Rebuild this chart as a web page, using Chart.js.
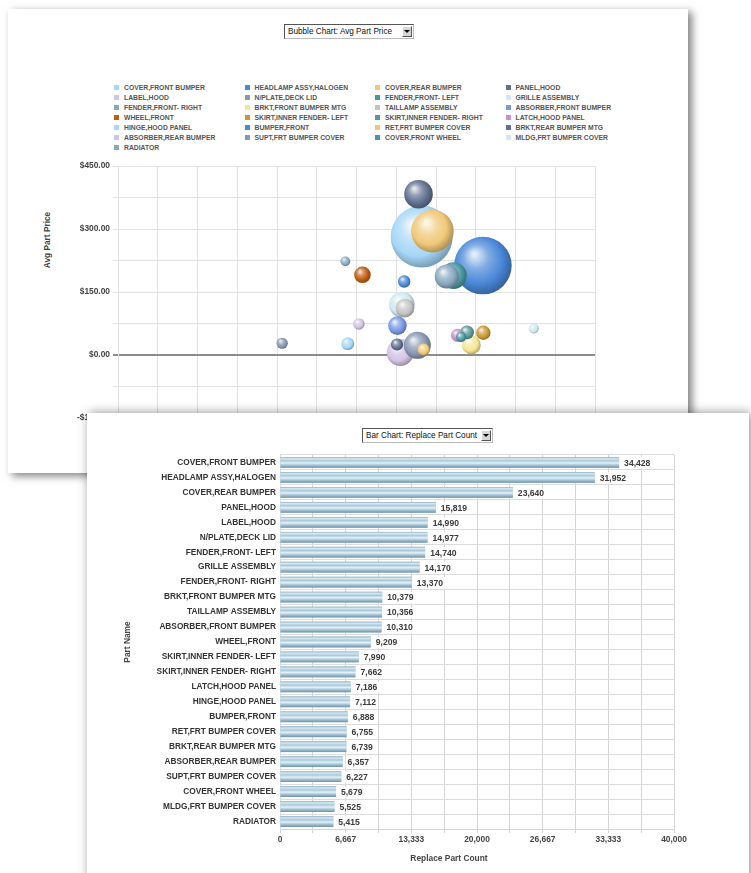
<!DOCTYPE html>
<html>
<head>
<meta charset="utf-8">
<script src="https://cdn.jsdelivr.net/npm/chart.js@4/dist/chart.umd.min.js"></script>
<style>
html, body { margin: 0; padding: 0; background: #fff; width: 751px; height: 873px; overflow: hidden; font-family: "Liberation Sans", Arial, sans-serif; }
.panel { position: absolute; background: #fff; }
#p1 { left: 8px; top: 9px; width: 680px; height: 464px; z-index: 1; box-shadow: 4px 3px 8px rgba(0, 0, 0, 0.5); }
#p2 { left: 87px; top: 413px; width: 662px; height: 480px; z-index: 2; box-shadow: 2px 0 10px rgba(0, 0, 0, 0.45); }
.pick { position: absolute; height: 13px; border: 1px solid; border-color: #555 #bbb #bbb #555; background: #fff; font-size: 8.2px; line-height: 13px; padding-left: 3px; color: #111; white-space: nowrap; }
.pick .btn { position: absolute; right: 1px; top: 1px; width: 10px; height: 11px; background: #d6d6d6; border: 1px solid; border-color: #fff #555 #555 #fff; box-sizing: border-box; }
.pick .btn::after { content: ''; position: absolute; left: 1px; top: 3px; border-left: 3px solid transparent; border-right: 3px solid transparent; border-top: 3px solid #000; }
#legend { position: absolute; left: 106px; top: 73.7px; display: grid; grid-template-columns: repeat(4, 130.5px); grid-auto-rows: 10px; }
#legend div { position: relative; font-size: 6.8px; font-weight: bold; color: #555; line-height: 10px; padding-left: 10px; white-space: nowrap; }
#legend i { position: absolute; left: 0; top: 2.5px; width: 5px; height: 5px; }
.vtitle { position: absolute; font-size: 8.3px; font-weight: bold; color: #444; white-space: nowrap; transform: translate(-50%, -50%) rotate(-90deg); }
.htitle { position: absolute; font-size: 8.4px; font-weight: bold; color: #444; white-space: nowrap; transform: translateX(-50%); }
canvas { position: absolute; }
</style>
</head>
<body>
<div class="panel" id="p1">
    <div class="pick" style="left: 276px; top: 15px; width: 125px;">Bubble Chart: Avg Part Price<span class="btn"></span></div>
    <div id="legend"></div>
    <div class="vtitle" style="left: 39px; top: 231px;">Avg Part Price</div>
    <canvas id="bubble" width="570" height="280" style="left: 32px; top: 147px;"></canvas>
</div>
<div class="panel" id="p2">
    <div class="pick" style="left: 275px; top: 15px; width: 126px;">Bar Chart: Replace Part Count<span class="btn"></span></div>
    <canvas id="bars" width="620" height="413" style="left: 13px; top: 33px;"></canvas>
    <div class="htitle" style="left: 362px; top: 440px;">Replace Part Count</div>
</div>
<script>
const parts = [
    'COVER,FRONT BUMPER', 'HEADLAMP ASSY,HALOGEN', 'COVER,REAR BUMPER', 'PANEL,HOOD',
    'LABEL,HOOD', 'N/PLATE,DECK LID', 'FENDER,FRONT- LEFT', 'GRILLE ASSEMBLY',
    'FENDER,FRONT- RIGHT', 'BRKT,FRONT BUMPER MTG', 'TAILLAMP ASSEMBLY', 'ABSORBER,FRONT BUMPER',
    'WHEEL,FRONT', 'SKIRT,INNER FENDER- LEFT', 'SKIRT,INNER FENDER- RIGHT', 'LATCH,HOOD PANEL',
    'HINGE,HOOD PANEL', 'BUMPER,FRONT', 'RET,FRT BUMPER COVER', 'BRKT,REAR BUMPER MTG',
    'ABSORBER,REAR BUMPER', 'SUPT,FRT BUMPER COVER', 'COVER,FRONT WHEEL', 'MLDG,FRT BUMPER COVER',
    'RADIATOR',
];

const replaceCounts = [
    34428, 31952, 23640, 15819, 14990, 14977, 14740, 14170, 13370, 10379, 10356, 10310,
    9209, 7990, 7662, 7186, 7112, 6888, 6755, 6739, 6357, 6227, 5679, 5525, 5415,
];

// avg part price per part
const avgPrices = [
    282, 213, 295, 383, 6, 23, 189, 120, 187, 24, 112, 70,
    191, 53, 54, 47, 27, 175, 13, 25, 74, 28, 43, 63, 223,
];

// horizontal bubble position, in grid steps (the x labels are hidden under the bar panel)
const bubbleX = [
    7.64, 9.18, 7.91, 7.56, 7.10, 7.53, 8.44, 7.14, 8.27, 8.89, 7.22, 7.03,
    6.15, 9.19, 8.78, 8.54, 5.78, 7.20, 7.69, 7.02, 6.06, 4.13, 8.63, 10.46, 5.72,
];

const partColors = [
    '#a6d6f8', '#4a88d8', '#f0c878', '#607090', '#d2c2e4', '#8898b2', '#4898a0', '#d0e8f0',
    '#88a8c0', '#f6e490', '#c4c4c4', '#7898e4', '#c05a10', '#c89830', '#5a9898', '#c890c8',
    '#a6d6f8', '#4a88d8', '#f0c878', '#607090', '#d2c2e4', '#8898b2', '#4898a0', '#d0e8f0',
    '#88a8c0',
];

const priceTickLabels = ['-$150.00', '$0.00', '$150.00', '$300.00', '$450.00'];
const countTickLabels = ['0', '6,667', '13,333', '20,000', '26,667', '33,333', '40,000'];

const FONT = '"Liberation Sans", Arial, sans-serif';

function mix(hex, target, t) {
    const a = parseInt(hex.slice(1), 16);
    const b = parseInt(target.slice(1), 16);
    const ch = (v, s) => (v >> s) & 255;
    const m = (s) => Math.round(ch(a, s) + (ch(b, s) - ch(a, s)) * t);
    return `rgb(${m(16)}, ${m(8)}, ${m(0)})`;
}

// legend
const legend = document.getElementById('legend');
parts.forEach((name, i) => {
    const item = document.createElement('div');
    item.innerHTML = `<i style="background:${partColors[i]}"></i>${name}`;
    legend.appendChild(item);
});

// shaded spheres, drawn at the points the bubble controller placed
const sphereShading = {
    id: 'sphereShading',
    afterDatasetsDraw(chart) {
        const { ctx } = chart;
        const meta = chart.getDatasetMeta(0);
        meta.data.forEach((el, i) => {
            const { x, y } = el.getProps(['x', 'y'], true);
            const r = el.options.radius;
            const c = partColors[i];
            const g = ctx.createRadialGradient(x - r * 0.3, y - r * 0.4, r * 0.05, x - r * 0.1, y - r * 0.1, r * 1.15);
            g.addColorStop(0, mix(c, '#ffffff', 0.85));
            g.addColorStop(0.35, mix(c, '#ffffff', 0.3));
            g.addColorStop(0.7, c);
            g.addColorStop(1, mix(c, '#000000', 0.3));
            ctx.save();
            ctx.beginPath();
            ctx.arc(x, y, r, 0, Math.PI * 2);
            ctx.fillStyle = g;
            ctx.fill();
            ctx.restore();
        });
    },
};

new Chart(document.getElementById('bubble'), {
    type: 'bubble',
    data: {
        datasets: [{
            data: parts.map((p, i) => ({ x: bubbleX[i], y: avgPrices[i], r: replaceCounts[i] / 1110 })),
            backgroundColor: 'rgba(0, 0, 0, 0)',
            borderWidth: 0,
            hoverRadius: 0,
        }],
    },
    options: {
        responsive: false,
        animation: false,
        layout: { autoPadding: false, padding: { top: 10, right: 15, left: 0, bottom: 0 } },
        plugins: { legend: { display: false }, tooltip: { enabled: false } },
        scales: {
            x: {
                type: 'linear',
                min: 0,
                max: 12,
                ticks: { display: false, stepSize: 1 },
                grid: { color: '#e2e2e2', tickLength: 5 },
                border: { color: '#e2e2e2' },
                afterFit(scale) { scale.height = 18; },
            },
            y: {
                min: -150,
                max: 450,
                ticks: {
                    stepSize: 75,
                    padding: 3,
                    color: '#444',
                    font: { family: FONT, size: 8.4, weight: 'bold' },
                    callback(value, index) {
                        return index % 2 === 0 ? priceTickLabels[index / 2] : '';
                    },
                },
                grid: {
                    tickLength: 5,
                    color: (c) => (c.tick && c.tick.value === 0 ? '#8c8c8c' : '#e2e2e2'),
                    lineWidth: (c) => (c.tick && c.tick.value === 0 ? 2 : 1),
                },
                border: { color: '#e2e2e2' },
                afterFit(scale) { scale.width = 78; },
            },
        },
    },
    plugins: [sphereShading],
});

// striped metal bars and value labels
const barShading = {
    id: 'barShading',
    afterDatasetsDraw(chart) {
        const { ctx } = chart;
        const meta = chart.getDatasetMeta(0);
        ctx.save();
        meta.data.forEach((el) => {
            const { x, y, base, height } = el.getProps(['x', 'y', 'base', 'height'], true);
            const top = y - height / 2;
            const g = ctx.createLinearGradient(0, top, 0, top + height);
            g.addColorStop(0, '#8fb0c4');
            g.addColorStop(0.15, '#d6e9f2');
            g.addColorStop(0.35, '#aac8d8');
            g.addColorStop(0.55, '#e4f2f8');
            g.addColorStop(0.75, '#a6c4d6');
            g.addColorStop(1, '#6f92aa');
            ctx.fillStyle = g;
            ctx.fillRect(base, top, x - base, height);
        });
        ctx.font = `bold 8.6px ${FONT}`;
        ctx.textBaseline = 'middle';
        meta.data.forEach((el, i) => {
            const { x, y } = el.getProps(['x', 'y'], true);
            const text = replaceCounts[i].toLocaleString('en-US');
            const w = ctx.measureText(text).width;
            ctx.fillStyle = '#fff';
            ctx.fillRect(x + 3, y - 5, w + 4, 11);
            ctx.fillStyle = '#3a3a3a';
            ctx.fillText(text, x + 5, y + 1);
        });
        ctx.restore();
    },
};

new Chart(document.getElementById('bars'), {
    type: 'bar',
    data: {
        labels: parts,
        datasets: [{
            data: replaceCounts,
            backgroundColor: '#b4d0de',
            barPercentage: 0.72,
            categoryPercentage: 1,
        }],
    },
    options: {
        indexAxis: 'y',
        responsive: false,
        animation: false,
        layout: { padding: { top: 8, right: 46, left: 0, bottom: 0 } },
        plugins: { legend: { display: false }, tooltip: { enabled: false } },
        scales: {
            x: {
                min: 0,
                max: 40000,
                ticks: {
                    stepSize: 40000 / 12,
                    padding: 2,
                    maxRotation: 0,
                    autoSkip: false,
                    color: '#444',
                    font: { family: FONT, size: 8.4, weight: 'bold' },
                    callback(value, index) {
                        return index % 2 === 0 ? countTickLabels[index / 2] : '';
                    },
                },
                grid: { color: '#d4d4d4', tickLength: 4 },
                border: { color: '#d4d4d4' },
                afterFit(scale) { scale.height = 30; },
            },
            y: {
                ticks: {
                    padding: 4,
                    autoSkip: false,
                    color: '#333',
                    font: { family: FONT, size: 8.3, weight: 'bold' },
                },
                grid: { color: '#dcdcdc', drawTicks: false },
                border: { color: '#dcdcdc' },
                title: {
                    display: true,
                    text: 'Part Name',
                    color: '#444',
                    padding: { top: 22.4, bottom: 0 },
                    font: { family: FONT, size: 8.4, weight: 'bold' },
                },
                afterFit(scale) { scale.width = 180; },
            },
        },
    },
    plugins: [barShading],
});
</script>
</body>
</html>
